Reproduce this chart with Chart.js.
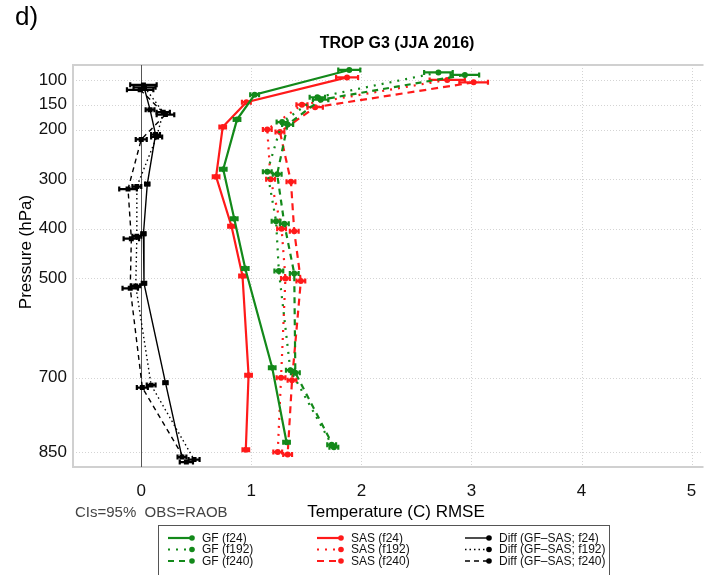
<!DOCTYPE html>
<html>
<head>
<meta charset="utf-8">
<script src="https://cdn.jsdelivr.net/npm/chart.js@4.4.1/dist/chart.umd.min.js"></script>
<style>
  html, body { margin: 0; padding: 0; background: #ffffff; }
  #wrap { position: relative; width: 705px; height: 575px; }
</style>
</head>
<body>
<div id="wrap"><canvas id="c" width="705" height="575"></canvas></div>
<script>
// ---------------- data ----------------
const levels = [100, 150, 200, 300, 400, 500, 700, 850];
const xTicks = [0, 1, 2, 3, 4, 5];

const gf24   = [1.89, 1.03, 0.87, 0.745, 0.845, 0.945, 1.19, 1.32];
const gf192  = [2.70, 1.60, 1.28, 1.145, 1.225, 1.25, 1.355, 1.73];
const gf240  = [2.94, 1.63, 1.33, 1.235, 1.30, 1.39, 1.40, 1.75];
const sas24  = [1.87, 0.955, 0.74, 0.68, 0.82, 0.92, 0.975, 0.95];
const sas192 = [2.78, 1.46, 1.145, 1.175, 1.275, 1.31, 1.27, 1.24];
const sas240 = [3.02, 1.58, 1.26, 1.36, 1.39, 1.45, 1.37, 1.33];
const diff24  = [0.02, 0.08, 0.13, 0.055, 0.02, 0.025, 0.22, 0.37];
const diff192 = [0.03, 0.20, 0.14, -0.04, -0.04, -0.05, 0.09, 0.48];
const diff240 = [-0.01, 0.22, 0.0, -0.12, -0.09, -0.10, 0.01, 0.41];

// 95% confidence half-widths
const ciGF24   = [0.10, 0.04, 0.03, 0.03, 0.03, 0.03, 0.03, 0.03];
const ciGF192  = [0.13, 0.07, 0.05, 0.04, 0.04, 0.04, 0.04, 0.04];
const ciGF240  = [0.13, 0.07, 0.05, 0.04, 0.04, 0.04, 0.04, 0.04];
const ciSAS24  = [0.10, 0.04, 0.03, 0.03, 0.03, 0.03, 0.03, 0.03];
const ciSAS192 = [0.16, 0.05, 0.04, 0.04, 0.04, 0.04, 0.04, 0.04];
const ciSAS240 = [0.13, 0.07, 0.04, 0.04, 0.04, 0.04, 0.04, 0.04];
const ciD24    = [0.12, 0.04, 0.04, 0.02, 0.02, 0.02, 0.02, 0.04];
const ciD192   = [0.10, 0.06, 0.05, 0.04, 0.04, 0.04, 0.04, 0.05];
const ciD240   = [0.12, 0.08, 0.05, 0.08, 0.07, 0.07, 0.05, 0.06];

const seriesNames = ['GF (f24)', 'GF (f192)', 'GF (f240)',
                     'SAS (f24)', 'SAS (f192)', 'SAS (f240)',
                     'Diff (GF\u2013SAS; f24)', 'Diff (GF\u2013SAS; f192)', 'Diff (GF\u2013SAS; f240)'];

// ---------------- styles ----------------
const GREEN = '#13891a';
const RED = '#ff1a1a';
const BLACK = '#000000';
const FONT = '"Liberation Sans", Arial, Helvetica, sans-serif';

function mk(label, vals, ci, color, dash, shift, width, pstyle, prad) {
  return {
    label: label,
    data: vals.map((v, i) => ({ x: v, y: levels[i] + shift })),
    ci: ci,
    borderColor: color,
    backgroundColor: color,
    borderWidth: width,
    borderDash: dash,
    showLine: true,
    tension: 0,
    pointStyle: pstyle,
    pointRadius: prad,
    pointBorderWidth: 0,
    pointBackgroundColor: color,
    pointHoverRadius: prad
  };
}

const datasets = [
  mk(seriesNames[0], gf24,   ciGF24,   GREEN, [],     -20, 2.2, 'circle', 3),
  mk(seriesNames[1], gf192,  ciGF192,  GREEN, [2, 6], -15, 2.2, 'circle', 3),
  mk(seriesNames[2], gf240,  ciGF240,  GREEN, [6, 5], -10, 2.2, 'circle', 3),
  mk(seriesNames[3], sas24,  ciSAS24,  RED,   [],      -5, 2.2, 'circle', 3),
  mk(seriesNames[4], sas192, ciSAS192, RED,   [2, 6],   0, 2.2, 'circle', 3),
  mk(seriesNames[5], sas240, ciSAS240, RED,   [7, 5],   5, 2.2, 'circle', 3),
  mk(seriesNames[6], diff24,  ciD24,   BLACK, [],      10, 1.4, 'rect', 3.5),
  mk(seriesNames[7], diff192, ciD192,  BLACK, [1.5, 3],15, 1.4, 'rect', 3.5),
  mk(seriesNames[8], diff240, ciD240,  BLACK, [5, 4],  20, 1.4, 'rect', 3.5)
];

// ---------------- plugins ----------------
const framePlugin = {
  id: 'frame',
  beforeDatasetsDraw(chart) {
    const { ctx, chartArea: a, scales } = chart;
    const xs = scales.x, ys = scales.y;
    ctx.save();
    // dotted grid
    ctx.strokeStyle = '#d4d4d4';
    ctx.lineWidth = 1;
    ctx.setLineDash([1, 2]);
    ys.ticks.forEach(t => {
      const y = Math.round(ys.getPixelForValue(t.value)) + 0.5;
      ctx.beginPath(); ctx.moveTo(a.left, y); ctx.lineTo(a.right, y); ctx.stroke();
    });
    xs.ticks.forEach(t => {
      if (t.value === 0) return;
      const x = Math.round(xs.getPixelForValue(t.value)) + 0.5;
      ctx.beginPath(); ctx.moveTo(x, a.top); ctx.lineTo(x, a.bottom); ctx.stroke();
    });
    ctx.setLineDash([]);
    // frame
    ctx.strokeStyle = '#d0d0d0';
    ctx.lineWidth = 2;
    ctx.beginPath();
    ctx.moveTo(a.right + 2, a.top); ctx.lineTo(a.left, a.top);
    ctx.lineTo(a.left, a.bottom); ctx.lineTo(a.right + 2, a.bottom);
    ctx.stroke();
    // zero line
    const x0 = Math.round(xs.getPixelForValue(0)) + 0.5;
    ctx.strokeStyle = '#555555';
    ctx.lineWidth = 1;
    ctx.beginPath(); ctx.moveTo(x0, a.top); ctx.lineTo(x0, a.bottom); ctx.stroke();
    ctx.restore();
  }
};

const errPlugin = {
  id: 'errbars',
  afterDatasetDraw(chart, args) {
    const ds = chart.data.datasets[args.index];
    const { ctx, scales } = chart;
    const xs = scales.x, ys = scales.y;
    ctx.save();
    ctx.strokeStyle = ds.borderColor;
    ctx.lineWidth = 2.2;
    ctx.setLineDash([]);
    ds.data.forEach((p, i) => {
      const y = ys.getPixelForValue(p.y);
      const xl = xs.getPixelForValue(p.x - ds.ci[i]);
      const xr = xs.getPixelForValue(p.x + ds.ci[i]);
      ctx.beginPath();
      ctx.moveTo(xl, y); ctx.lineTo(xr, y);
      ctx.moveTo(xl, y - 2.5); ctx.lineTo(xl, y + 2.5);
      ctx.moveTo(xr, y - 2.5); ctx.lineTo(xr, y + 2.5);
      ctx.stroke();
    });
    ctx.restore();
  }
};

const textPlugin = {
  id: 'texts',
  afterDraw(chart) {
    const { ctx } = chart;
    ctx.save();
    ctx.fillStyle = '#000';
    ctx.textBaseline = 'middle';
    ctx.font = '26px ' + FONT;
    ctx.textAlign = 'left';
    ctx.fillText('d)', 15, 18);
    ctx.font = 'bold 16px ' + FONT;
    ctx.textAlign = 'center';
    ctx.fillText('TROP G3 (JJA 2016)', 397, 44);
    ctx.font = '17px ' + FONT;
    ctx.fillText('Temperature (C) RMSE', 396, 512);
    ctx.font = '15px ' + FONT;
    ctx.fillStyle = '#444';
    ctx.textAlign = 'left';
    ctx.fillText('CIs=95%  OBS=RAOB', 75, 513);
    ctx.fillStyle = '#000';
    ctx.font = '17px ' + FONT;
    ctx.translate(26, 252);
    ctx.rotate(-Math.PI / 2);
    ctx.textAlign = 'center';
    ctx.fillText('Pressure (hPa)', 0, 0);
    ctx.restore();

    // legend
    ctx.save();
    ctx.strokeStyle = '#555';
    ctx.lineWidth = 1;
    ctx.strokeRect(158.5, 525.5, 451, 60);
    const colX = [168, 317, 465];
    const rowY = [538, 549.5, 561];
    ctx.font = '12px ' + FONT;
    ctx.textBaseline = 'middle';
    ctx.textAlign = 'left';
    chart.data.datasets.forEach((ds, i) => {
      const c = Math.floor(i / 3), r = i % 3;
      const x = colX[c], y = rowY[r];
      ctx.strokeStyle = ds.borderColor;
      ctx.lineWidth = ds.borderWidth;
      ctx.setLineDash(ds.borderDash);
      ctx.beginPath(); ctx.moveTo(x, y); ctx.lineTo(x + 24, y); ctx.stroke();
      ctx.setLineDash([]);
      ctx.fillStyle = ds.borderColor;
      ctx.beginPath(); ctx.arc(x + 24, y, 2.8, 0, Math.PI * 2); ctx.fill();
      ctx.fillStyle = '#111';
      ctx.fillText(ds.label, x + 34, y + 0.5);
    });
    ctx.restore();
  }
};

// ---------------- chart ----------------
new Chart(document.getElementById('c'), {
  type: 'scatter',
  data: { datasets: datasets },
  options: {
    responsive: false,
    animation: false,
    events: [],
    layout: { padding: { top: 65, right: 0, left: 0, bottom: 0 } },
    plugins: { legend: { display: false }, title: { display: false }, tooltip: { enabled: false } },
    scales: {
      x: {
        type: 'linear',
        min: -0.62, max: 5.09,
        grid: { display: false, drawTicks: false },
        border: { display: false },
        afterBuildTicks: s => { s.ticks = xTicks.map(v => ({ value: v })); },
        afterFit: s => { s.height = 108; s.paddingLeft = 0; s.paddingRight = 0; },
        ticks: { padding: 14, color: '#111', font: { family: FONT, size: 17 }, callback: v => String(v) }
      },
      y: {
        type: 'linear',
        reverse: true,
        min: 70, max: 880,
        grid: { display: false, drawTicks: false },
        border: { display: false },
        afterBuildTicks: s => { s.ticks = levels.map(v => ({ value: v })); },
        afterFit: s => { s.width = 73; s.paddingTop = 0; s.paddingBottom = 0; },
        ticks: { padding: 6, color: '#111', font: { family: FONT, size: 17 }, callback: v => String(v) }
      }
    }
  },
  plugins: [framePlugin, errPlugin, textPlugin]
});
</script>
</body>
</html>
